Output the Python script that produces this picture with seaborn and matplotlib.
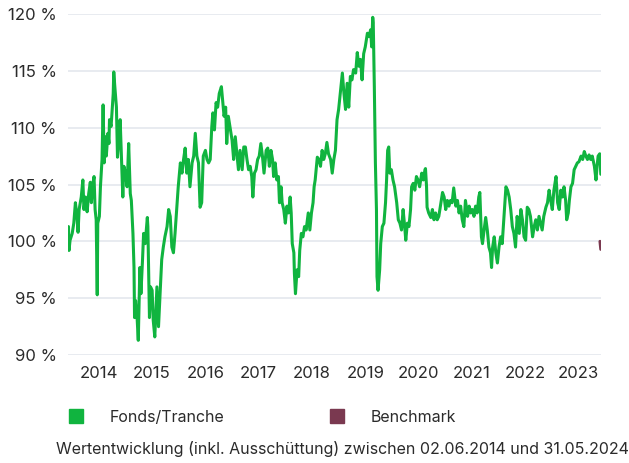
import pandas as pd
import matplotlib
matplotlib.use("Agg")
import matplotlib.pyplot as plt
from matplotlib.lines import Line2D
import seaborn as sns

# Wertentwicklung Fonds/Tranche (in %), Zeit als Dezimaljahr
fonds_jahr = [
    2014.43, 2014.44, 2014.46, 2014.50, 2014.53, 2014.56, 2014.59, 2014.61, 2014.63, 2014.67,
    2014.70, 2014.72, 2014.75, 2014.78, 2014.81, 2014.84, 2014.86, 2014.88, 2014.91, 2014.93,
    2014.95, 2014.97, 2014.98, 2015.01, 2015.03, 2015.06, 2015.08, 2015.10, 2015.12, 2015.14,
    2015.17, 2015.19, 2015.20, 2015.23, 2015.25, 2015.27, 2015.28, 2015.30, 2015.33, 2015.35,
    2015.37, 2015.40, 2015.42, 2015.45, 2015.47, 2015.50, 2015.53, 2015.56, 2015.59, 2015.61,
    2015.64, 2015.66, 2015.67, 2015.69, 2015.72, 2015.74, 2015.77, 2015.79, 2015.82, 2015.84,
    2015.87, 2015.91, 2015.92, 2015.95, 2015.97, 2016.00, 2016.02, 2016.05, 2016.09, 2016.12,
    2016.15, 2016.18, 2016.21, 2016.24, 2016.28, 2016.31, 2016.34, 2016.37, 2016.40, 2016.43,
    2016.46, 2016.49, 2016.53, 2016.56, 2016.59, 2016.62, 2016.65, 2016.68, 2016.71, 2016.75,
    2016.78, 2016.81, 2016.84, 2016.87, 2016.90, 2016.93, 2016.96, 2017.00, 2017.03, 2017.06,
    2017.09, 2017.12, 2017.14, 2017.17, 2017.20, 2017.23, 2017.26, 2017.30, 2017.33, 2017.35,
    2017.38, 2017.40, 2017.43, 2017.46, 2017.50, 2017.53, 2017.56, 2017.59, 2017.62, 2017.65,
    2017.69, 2017.72, 2017.75, 2017.78, 2017.81, 2017.84, 2017.87, 2017.89, 2017.92, 2017.95,
    2017.98, 2018.01, 2018.04, 2018.07, 2018.10, 2018.14, 2018.17, 2018.20, 2018.23, 2018.26,
    2018.28, 2018.31, 2018.34, 2018.37, 2018.39, 2018.42, 2018.44, 2018.47, 2018.50, 2018.53,
    2018.56, 2018.59, 2018.61, 2018.63, 2018.66, 2018.67, 2018.69, 2018.72, 2018.75, 2018.77,
    2018.80, 2018.83, 2018.86, 2018.89, 2018.93, 2018.96, 2018.99, 2019.02, 2019.04, 2019.06,
    2019.10, 2019.13, 2019.16, 2019.19, 2019.22, 2019.25, 2019.28, 2019.31, 2019.35, 2019.38,
    2019.41, 2019.44, 2019.47, 2019.50, 2019.53, 2019.57, 2019.60, 2019.63, 2019.66, 2019.69,
    2019.72, 2019.75, 2019.78, 2019.82, 2019.85, 2019.88, 2019.91, 2019.94, 2019.97, 2020.00,
    2020.04, 2020.07, 2020.10, 2020.12, 2020.14, 2020.15, 2020.17, 2020.19, 2020.21, 2020.22,
    2020.24, 2020.27, 2020.29, 2020.32, 2020.35, 2020.38, 2020.40, 2020.42, 2020.44, 2020.46,
    2020.49, 2020.52, 2020.55, 2020.59, 2020.62, 2020.65, 2020.68, 2020.71, 2020.74, 2020.76,
    2020.79, 2020.82, 2020.85, 2020.87, 2020.90, 2020.93, 2020.96, 2020.99, 2021.02, 2021.06,
    2021.09, 2021.12, 2021.13, 2021.15, 2021.16, 2021.19, 2021.23, 2021.26, 2021.29, 2021.32,
    2021.35, 2021.38, 2021.41, 2021.45, 2021.48, 2021.51, 2021.54, 2021.57, 2021.60, 2021.63,
    2021.66, 2021.70, 2021.73, 2021.76, 2021.79, 2021.82, 2021.85, 2021.88, 2021.92, 2021.95,
    2021.98, 2022.01, 2022.04, 2022.07, 2022.10, 2022.13, 2022.15, 2022.18, 2022.20, 2022.23,
    2022.26, 2022.29, 2022.32, 2022.35, 2022.37, 2022.39, 2022.42, 2022.45, 2022.48, 2022.51,
    2022.54, 2022.57, 2022.60, 2022.64, 2022.67, 2022.70, 2022.73, 2022.76, 2022.79, 2022.82,
    2022.85, 2022.89, 2022.92, 2022.95, 2022.98, 2023.01, 2023.04, 2023.07, 2023.10, 2023.14,
    2023.17, 2023.20, 2023.23, 2023.26, 2023.29, 2023.32, 2023.35, 2023.39, 2023.42, 2023.45,
    2023.48, 2023.51, 2023.54, 2023.58, 2023.61, 2023.64, 2023.67, 2023.70, 2023.73, 2023.76,
    2023.78, 2023.81, 2023.83, 2023.86, 2023.89, 2023.92, 2023.95, 2023.98, 2024.01, 2024.05,
    2024.08, 2024.11, 2024.14, 2024.17, 2024.20, 2024.23, 2024.26, 2024.30, 2024.33, 2024.35,
    2024.37, 2024.40, 2024.42,
]
fonds_wert = [
    101.3, 99.2, 100.1, 100.7, 101.6, 103.4, 102.2, 100.8, 102.8, 103.9,
    105.4, 102.8, 103.9, 102.6, 104.2, 105.2, 103.4, 104.8, 105.7, 102.8,
    101.9, 95.3, 101.6, 102.2, 104.8, 107.2, 112.0, 106.9, 109.2, 107.5,
    109.5, 108.6, 110.7, 110.1, 111.6, 113.0, 114.9, 113.6, 111.8, 107.4,
    108.6, 110.7, 108.0, 103.9, 106.6, 106.0, 104.8, 108.6, 104.2, 103.6,
    100.7, 97.7, 93.3, 94.8, 93.1, 91.3, 97.7, 95.4, 98.4, 100.7,
    99.8, 102.1, 101.3, 93.3, 96.0, 95.7, 93.1, 91.6, 96.0, 92.5,
    95.4, 98.4, 99.5, 100.4, 101.3, 102.8, 102.2, 99.5, 99.0, 100.7,
    102.8, 104.8, 106.9, 106.0, 107.2, 108.2, 106.0, 107.2, 104.8, 106.9,
    107.5, 109.5, 107.5, 106.9, 103.0, 103.4, 107.5, 108.0, 107.2, 106.9,
    107.2, 110.1, 111.3, 109.8, 112.2, 111.8, 113.0, 113.6, 112.1, 111.0,
    111.8, 108.6, 111.0, 110.1, 108.9, 107.2, 109.2, 107.7, 106.3, 108.0,
    106.3, 108.3, 108.3, 107.2, 106.3, 106.6, 105.7, 103.9, 106.0, 106.3,
    107.2, 107.5, 108.6, 107.5, 106.0, 108.0, 108.2, 106.6, 108.0, 107.2,
    105.7, 106.9, 105.4, 105.7, 103.4, 104.8, 103.4, 102.8, 101.6, 103.1,
    102.5, 103.9, 102.5, 99.8, 99.0, 97.2, 95.4, 97.5, 96.9, 99.2,
    100.7, 100.4, 101.3, 101.0, 102.5, 101.0, 102.5, 103.4, 104.8, 105.4,
    107.4, 107.2, 106.6, 108.0, 107.2, 107.7, 108.7, 107.7, 107.2, 106.0,
    107.2, 108.0, 110.7, 111.6, 113.0, 114.8, 113.0, 111.6, 113.9, 111.8,
    114.5, 114.2, 115.1, 114.8, 116.6, 115.4, 116.0, 114.2, 116.5, 117.1,
    118.3, 118.0, 118.6, 117.1, 119.7, 119.2, 113.6, 106.9, 102.8, 96.9,
    95.7, 97.5, 99.8, 101.3, 101.6, 103.4, 105.4, 108.0, 108.3, 106.0,
    106.3, 105.4, 104.8, 103.4, 101.9, 101.6, 101.0, 102.8, 101.3, 100.1,
    101.6, 101.3, 102.8, 104.8, 105.1, 104.5, 105.7, 105.4, 104.8, 106.0,
    105.4, 106.3, 106.4, 104.8, 103.0, 102.5, 102.1, 102.8, 101.9, 102.5,
    101.9, 102.2, 103.1, 104.3, 103.9, 102.8, 103.6, 103.1, 103.6, 103.4,
    104.7, 103.1, 103.6, 102.5, 103.1, 101.9, 101.3, 103.6, 102.2, 103.1,
    102.5, 102.8, 102.2, 103.1, 102.5, 103.9, 104.3, 100.4, 99.8, 101.0,
    102.1, 101.0, 99.5, 99.0, 97.7, 99.5, 100.4, 99.0, 98.1, 99.5,
    100.4, 99.8, 101.9, 104.8, 104.5, 103.9, 102.8, 101.3, 100.7, 99.5,
    102.2, 100.7, 102.8, 101.9, 100.4, 100.1, 103.0, 102.8, 102.2, 100.4,
    101.3, 101.9, 101.0, 102.2, 101.6, 101.0, 102.2, 103.0, 103.4, 104.5,
    103.6, 102.8, 104.5, 105.7, 103.4, 102.8, 104.5, 103.9, 104.8, 103.6,
    101.9, 102.5, 103.6, 104.8, 105.1, 106.3, 106.6, 106.9, 107.0, 107.5,
    107.2, 107.9, 107.5, 107.2, 107.6, 107.2, 107.5, 106.6, 105.4, 106.6,
    107.5, 107.7, 105.9,
]

# Benchmark: nur ein kurzes Stueck am Ende sichtbar
bench_jahr = [2024.405, 2024.42]
bench_wert = [100.0, 99.3]

y_ticks = [90, 95, 100, 105, 110, 115, 120]
x_tick_pos = [2015, 2016, 2017, 2018, 2019, 2020, 2021, 2022, 2023, 2024]
x_tick_labels = ["2014", "2015", "2016", "2017", "2018", "2019", "2020", "2021", "2022", "2023"]

gruen = "#10b43f"
bordeaux = "#7a3950"
text_farbe = "#2b2b2b"

sns.set_style("white")
plt.rcParams["font.family"] = ["Inter", "DejaVu Sans"]

df_fonds = pd.DataFrame({"jahr": fonds_jahr, "wert": fonds_wert})
df_bench = pd.DataFrame({"jahr": bench_jahr, "wert": bench_wert})

fig, ax = plt.subplots(figsize=(6.29, 4.63), dpi=100)
fig.subplots_adjust(left=0.108, right=0.956, top=0.970, bottom=0.233)

sns.lineplot(data=df_fonds, x="jahr", y="wert", ax=ax, color=gruen, linewidth=2.2,
             estimator=None, sort=False)
sns.lineplot(data=df_bench, x="jahr", y="wert", ax=ax, color=bordeaux, linewidth=2.2,
             estimator=None, sort=False)

ax.set_xlim(2014.42, 2024.43)
ax.set_ylim(90, 120)
ax.set_yticks(y_ticks)
ax.set_yticklabels([f"{v} %" for v in y_ticks])
ax.set_xticks(x_tick_pos)
ax.set_xticklabels(x_tick_labels)
ax.set_xlabel("")
ax.set_ylabel("")

ax.grid(axis="y", color="#e4e7ee", linewidth=1.2)
ax.grid(axis="x", visible=False)
ax.set_axisbelow(True)
for s in ax.spines.values():
    s.set_visible(False)
ax.tick_params(axis="both", length=0, labelsize=12, colors=text_farbe)
ax.tick_params(axis="y", pad=8)
ax.tick_params(axis="x", pad=8)

handles = [
    Line2D([], [], linestyle="none", marker="s", markersize=9.5, color=gruen),
    Line2D([], [], linestyle="none", marker="s", markersize=9.5, color=bordeaux),
]
fig.legend(handles, ["Fonds/Tranche", "Benchmark"], loc="center left",
           bbox_to_anchor=(68 / 629, 1 - 417 / 463), ncol=2, frameon=False,
           fontsize=11.5, handlelength=1.0, handletextpad=1.63, columnspacing=6.5,
           labelcolor=text_farbe, borderaxespad=0, borderpad=0)

fig.text(342 / 629, 1 - 449 / 463,
         "Wertentwicklung (inkl. Ausschüttung) zwischen 02.06.2014 und 31.05.2024",
         ha="center", va="center", fontsize=11.5, color=text_farbe)

fig.savefig("out.png", dpi=100)
